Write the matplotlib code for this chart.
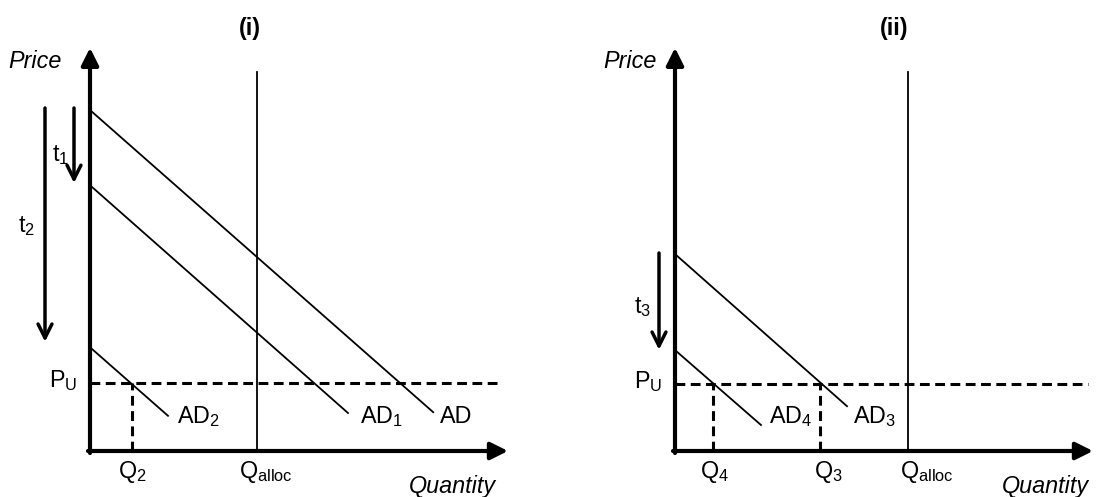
import matplotlib.pyplot as plt

plt.rcParams['font.family'] = ['Liberation Sans', 'DejaVu Sans']
plt.rcParams['mathtext.default'] = 'regular'

# ===== Diagram data (units: 1 = 40 px, origin at each panel's axes corner) =====
# each demand curve: (Q_start, P_start, Q_end, P_end)
AD_I = {'AD': (0.05, 8.48, 8.58, 0.97),
        'AD$_1$': (0.05, 6.60, 6.45, 0.95),
        'AD$_2$': (0.05, 2.55, 1.95, 0.88)}
AD_II = {'AD$_3$': (0.05, 4.88, 4.30, 1.12),
         'AD$_4$': (0.05, 2.48, 2.15, 0.65)}

P_U = [1.70, 1.675]           # price ceiling per panel
Q_ALLOC = [4.175, 5.825]      # allocation per panel
Q_ALLOC_TOP = 9.475
PU_END = [10.3, 10.325]

Q_MARKS_I = {'Q$_2$': 1.05}
Q_MARKS_II = {'Q$_4$': 0.95, 'Q$_3$': 3.625}

# tax arrows: (label, x, P_from, P_to)
T_ARROWS_I = [('t$_1$', -0.4, 8.575, 6.70), ('t$_2$', -1.125, 8.575, 2.73)]
T_ARROWS_II = [('t$_3$', -0.4, 4.95, 2.53)]

X_END, Y_END = 10.45, 10.08

FS = 16.8

fig = plt.figure(figsize=(10.99, 4.97), dpi=100)

# panel placement in pixels: (left px, right px, origin x px)
panels = [(0, 549.5, 90), (549.5, 1099, 675)]
ORIG_Y = 451
axes = []
for left, right, ox in panels:
    ax = fig.add_axes([left / 1099, 0, (right - left) / 1099, 1])
    ax.set_xlim((left - ox) / 40, (right - ox) / 40)
    ax.set_ylim((ORIG_Y - 497) / 40, ORIG_Y / 40)
    ax.axis('off')
    axes.append(ax)


def draw_frame(ax, title, title_x):
    # axes with solid arrow heads
    ax.annotate('', xy=(0, Y_END), xytext=(0, -0.05),
                arrowprops=dict(arrowstyle='-|>', lw=3, color='black',
                                mutation_scale=26, shrinkA=0, shrinkB=0))
    ax.annotate('', xy=(X_END, 0), xytext=(-0.05, 0),
                arrowprops=dict(arrowstyle='-|>', lw=3, color='black',
                                mutation_scale=26, shrinkA=0, shrinkB=0))
    ax.text(title_x, 10.55, title, fontsize=FS, fontweight='bold',
            ha='center', va='center')


def draw_t(ax, arrows):
    for lab, x, p0, p1 in arrows:
        ax.annotate('', xy=(x, p1), xytext=(x, p0),
                    arrowprops=dict(arrowstyle='->', lw=2.5, color='black',
                                    mutation_scale=25, shrinkA=0, shrinkB=0))


# ---------- panel (i) ----------
ax = axes[0]
draw_frame(ax, '(i)', 4.0)
ax.text(-1.375, 9.75, 'Price', fontsize=FS, style='italic', ha='center', va='center')
for name, (q0, p0, q1, p1) in AD_I.items():
    ax.plot([q0, q1], [p0, p1], color='black', lw=1.3)
ax.text(8.75, 0.7, 'AD', fontsize=FS, ha='left', va='baseline')
ax.text(6.75, 0.7, 'AD$_1$', fontsize=FS, ha='left', va='baseline')
ax.text(2.175, 0.7, 'AD$_2$', fontsize=FS, ha='left', va='baseline')
ax.plot([Q_ALLOC[0], Q_ALLOC[0]], [0, Q_ALLOC_TOP], color='black', lw=1.3)
ax.plot([0, PU_END[0]], [P_U[0], P_U[0]], color='black', lw=2.2, dashes=(3.2, 1.8))
for lab, q in Q_MARKS_I.items():
    ax.plot([q, q], [0, P_U[0]], color='black', lw=2.2, dashes=(3.2, 1.8))
    ax.text(q, -0.675, lab, fontsize=FS, ha='center', va='baseline')
ax.text(-0.325, 1.6, 'P$_U$', fontsize=FS, ha='right', va='baseline')
ax.text(3.725, -0.675, 'Q$_{alloc}$', fontsize=FS, ha='left', va='baseline')
ax.text(7.975, -1.05, 'Quantity', fontsize=FS, style='italic', ha='left', va='baseline')
draw_t(ax, T_ARROWS_I)
ax.text(-0.75, 7.4, 't$_1$', fontsize=FS, ha='center', va='center')
ax.text(-1.575, 5.625, 't$_2$', fontsize=FS, ha='center', va='center')

# ---------- panel (ii) ----------
ax = axes[1]
draw_frame(ax, '(ii)', 5.49)
ax.text(-1.125, 9.75, 'Price', fontsize=FS, style='italic', ha='center', va='center')
for name, (q0, p0, q1, p1) in AD_II.items():
    ax.plot([q0, q1], [p0, p1], color='black', lw=1.3)
ax.text(4.45, 0.7, 'AD$_3$', fontsize=FS, ha='left', va='baseline')
ax.text(2.35, 0.7, 'AD$_4$', fontsize=FS, ha='left', va='baseline')
ax.plot([Q_ALLOC[1], Q_ALLOC[1]], [0, Q_ALLOC_TOP], color='black', lw=1.3)
ax.plot([0, PU_END[1]], [P_U[1], P_U[1]], color='black', lw=2.2, dashes=(3.2, 1.8))
q_text_x = {'Q$_4$': 1.0, 'Q$_3$': 3.825}
for lab, q in Q_MARKS_II.items():
    ax.plot([q, q], [0, P_U[1]], color='black', lw=2.2, dashes=(3.2, 1.8))
    ax.text(q_text_x[lab], -0.675, lab, fontsize=FS, ha='center', va='baseline')
ax.text(-0.325, 1.575, 'P$_U$', fontsize=FS, ha='right', va='baseline')
ax.text(5.625, -0.675, 'Q$_{alloc}$', fontsize=FS, ha='left', va='baseline')
ax.text(8.175, -1.05, 'Quantity', fontsize=FS, style='italic', ha='left', va='baseline')
draw_t(ax, T_ARROWS_II)
ax.text(-0.8, 3.6, 't$_3$', fontsize=FS, ha='center', va='center')

fig.savefig('out.png', dpi=100)
